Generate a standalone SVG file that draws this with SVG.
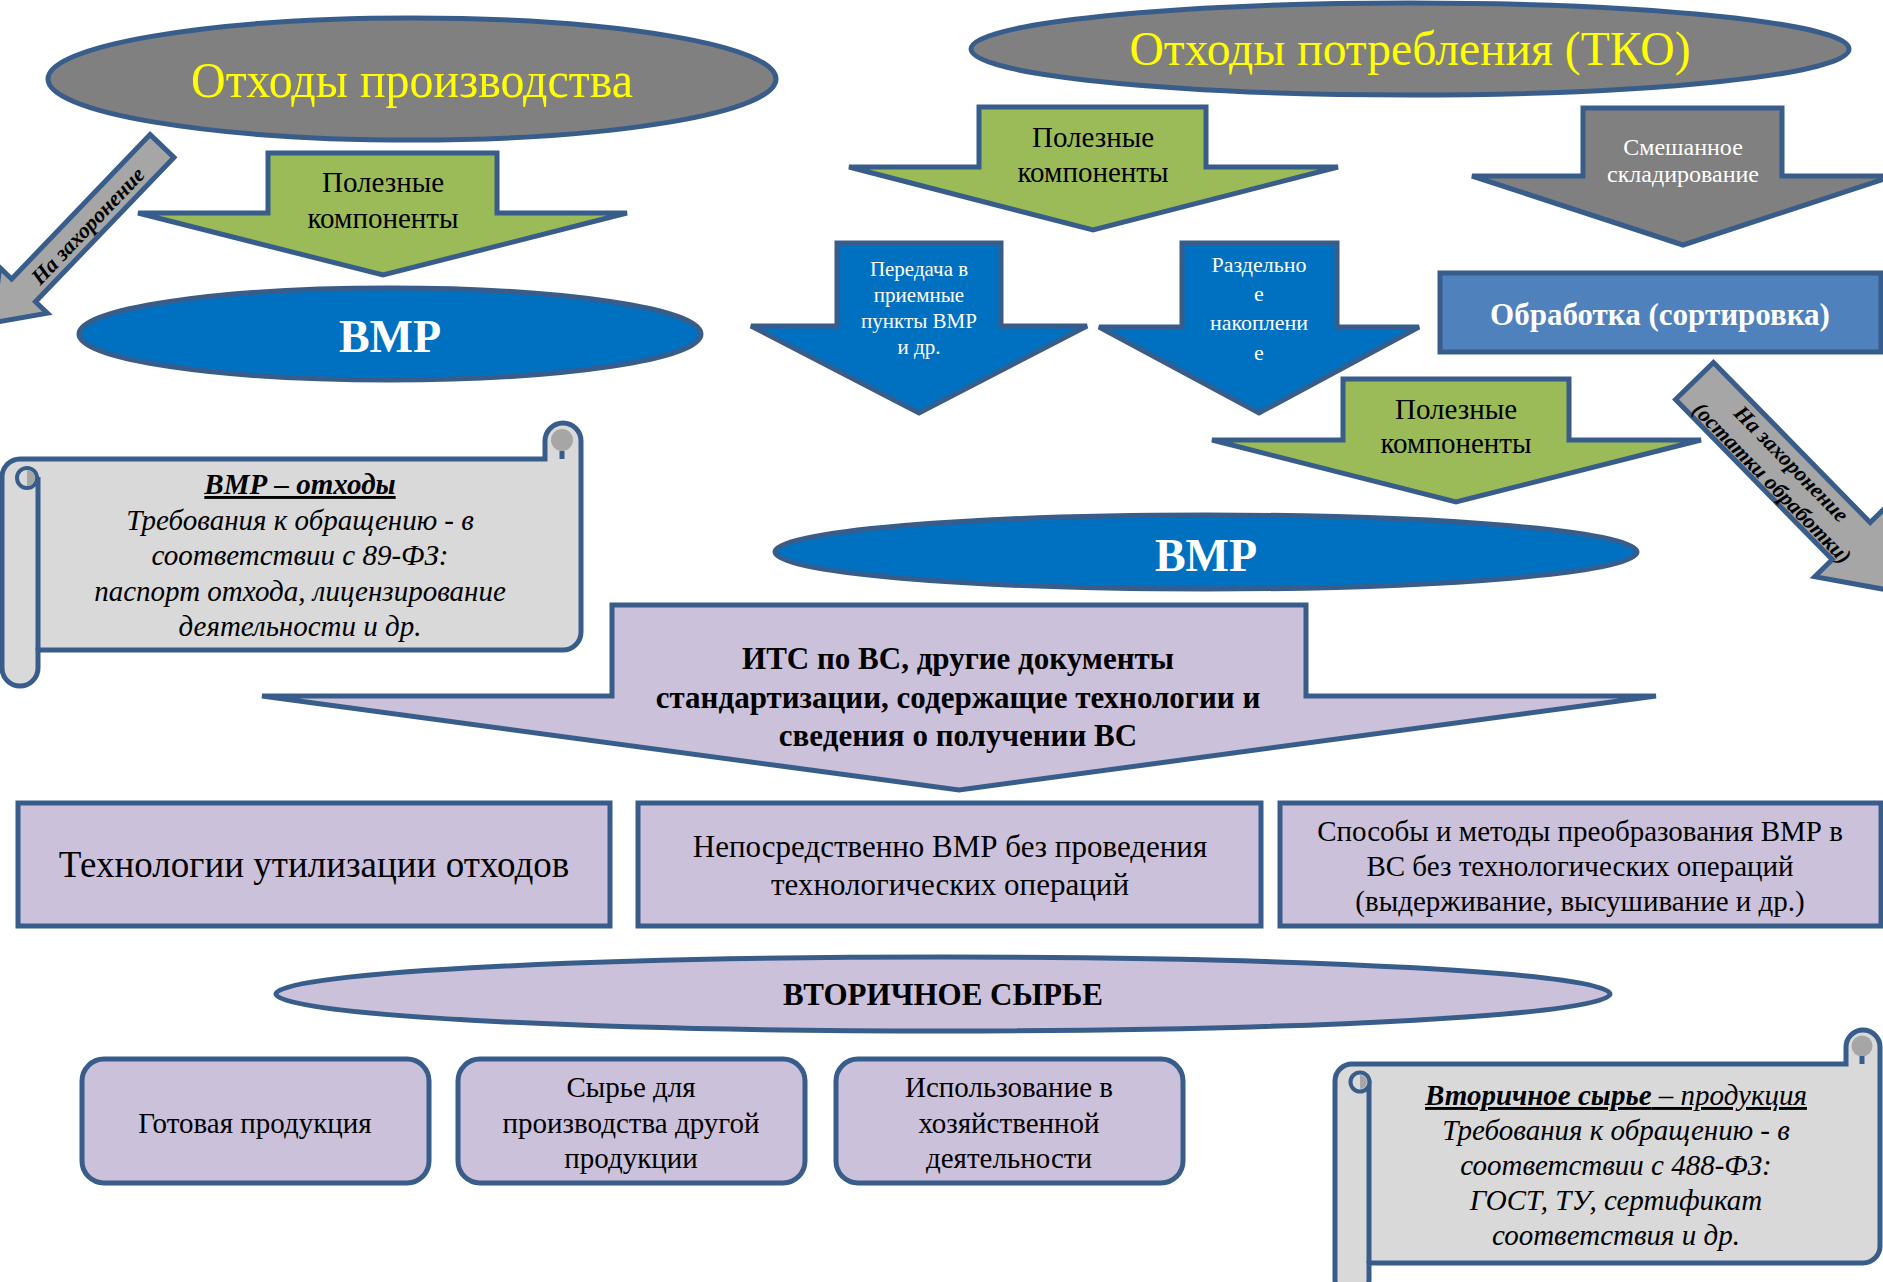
<svg xmlns="http://www.w3.org/2000/svg" width="1883" height="1282" viewBox="0 0 1883 1282">
<style>
.o{stroke:#385D8A;stroke-width:5;stroke-linejoin:miter}
.ol{fill:none;stroke:#385D8A;stroke-width:5}
.gr{fill:#808080}
.bl{fill:#0070C0}
.gn{fill:#9BBB59}
.lv{fill:#CCC1DA}
.sc{fill:#D9D9D9}
.dg{fill:#A6A6A6}
.ob{fill:#4F81BD}
.t{font-family:"Liberation Serif","Times New Roman",serif;text-anchor:middle;fill:#000}
.w{fill:#fff}
.y{fill:#FFFF00}
.b{font-weight:bold}
.i{font-style:italic}
.u{text-decoration:underline}
</style>
<rect width="1883" height="1282" fill="#fff"/>

<g id="src-production">
<ellipse class="o gr" cx="412" cy="79" rx="364" ry="61"/>
<text class="t y" x="412" y="97" font-size="50" textLength="442" lengthAdjust="spacingAndGlyphs">Отходы производства</text>
</g>

<g id="src-consumption">
<ellipse class="o gr" cx="1410" cy="49" rx="439" ry="46"/>
<text class="t y" x="1410" y="65" font-size="48" textLength="561" lengthAdjust="spacingAndGlyphs">Отходы потребления (ТКО)</text>
</g>

<g id="vmr-left">
<ellipse class="o bl" cx="390" cy="334" rx="311" ry="46"/>
<text class="t w b" x="390" y="352" font-size="46">ВМР</text>
</g>

<g id="vmr-right">
<ellipse class="o bl" cx="1206" cy="552" rx="431" ry="37"/>
<text class="t w b" x="1206" y="571" font-size="46">ВМР</text>
</g>

<g id="processing">
<rect class="o ob" x="1440" y="273" width="441" height="79"/>
<text class="t w b" x="1660" y="325" font-size="31">Обработка (сортировка)</text>
</g>

<g id="scroll-waste">
<path class="o sc" d="M20,459 L545,459 L545,441 A18,18 0 0 1 581,441 L581,632 A18,18 0 0 1 563,650 L38,650 L38,668 A18,18 0 0 1 2,668 L2,477 A18,18 0 0 1 20,459 Z"/>
<path class="ol" d="M38,477 L38,650"/>
<circle class="sc" cx="27" cy="478" r="10" stroke="#385D8A" stroke-width="4"/>
<path class="dg" d="M27,470 A8,8 0 0 1 27,486 Z"/>
<circle class="dg" cx="562" cy="440" r="11"/>
<path class="ol" d="M562,451 L562,459" stroke-width="4"/>
<text class="t b i u" x="300" y="494" font-size="29">ВМР – отходы</text>
<text class="t i" x="300" y="530" font-size="29">Требования к обращению - в</text>
<text class="t i" x="300" y="565" font-size="29">соответствии с 89-ФЗ:</text>
<text class="t i" x="300" y="601" font-size="29">паспорт отхода, лицензирование</text>
<text class="t i" x="300" y="636" font-size="29">деятельности и др.</text>
</g>

<g id="tech-1">
<rect class="o lv" x="18" y="803" width="592" height="123"/>
<text class="t" x="314" y="877" font-size="37">Технологии утилизации отходов</text>
</g>
<g id="tech-2">
<rect class="o lv" x="638" y="803" width="623" height="123"/>
<text class="t" x="950" y="857" font-size="31">Непосредственно ВМР без проведения</text>
<text class="t" x="950" y="895" font-size="31">технологических операций</text>
</g>
<g id="tech-3">
<rect class="o lv" x="1280" y="803" width="601" height="123"/>
<text class="t" x="1580" y="841" font-size="29">Способы и методы преобразования ВМР в</text>
<text class="t" x="1580" y="876" font-size="29">ВС без технологических операций</text>
<text class="t" x="1580" y="911" font-size="29">(выдерживание, высушивание и др.)</text>
</g>

<g id="secondary">
<ellipse class="o lv" cx="943" cy="994" rx="667" ry="37"/>
<text class="t b" x="943" y="1005" font-size="31">ВТОРИЧНОЕ СЫРЬЕ</text>
</g>

<g id="use-1">
<rect class="o lv" x="82" y="1059" width="347" height="124" rx="22"/>
<text class="t" x="255" y="1133" font-size="29">Готовая продукция</text>
</g>
<g id="use-2">
<rect class="o lv" x="458" y="1059" width="347" height="124" rx="22"/>
<text class="t" x="631" y="1097" font-size="29">Сырье для</text>
<text class="t" x="631" y="1133" font-size="29">производства другой</text>
<text class="t" x="631" y="1168" font-size="29">продукции</text>
</g>
<g id="use-3">
<rect class="o lv" x="836" y="1059" width="347" height="124" rx="22"/>
<text class="t" x="1009" y="1097" font-size="29">Использование в</text>
<text class="t" x="1009" y="1133" font-size="29">хозяйственной</text>
<text class="t" x="1009" y="1168" font-size="29">деятельности</text>
</g>

<g id="scroll-product">
<path class="o sc" d="M1352,1064 L1846,1064 L1846,1047 A17,17 0 0 1 1880,1047 L1880,1246 A17,17 0 0 1 1863,1263 L1369,1263 L1369,1280 A17,17 0 0 1 1335,1280 L1335,1081 A17,17 0 0 1 1352,1064 Z"/>
<path class="ol" d="M1369,1081 L1369,1263"/>
<circle class="sc" cx="1360" cy="1082" r="9.5" stroke="#385D8A" stroke-width="4"/>
<path class="dg" d="M1360,1075 A7,7 0 0 1 1360,1089 Z"/>
<circle class="dg" cx="1862" cy="1046" r="10.5"/>
<path class="ol" d="M1862,1056 L1862,1064" stroke-width="4"/>
<text class="t i u" x="1616" y="1105" font-size="29"><tspan class="b">Вторичное сырье</tspan> – продукция</text>
<text class="t i" x="1616" y="1140" font-size="29">Требования к обращению - в</text>
<text class="t i" x="1616" y="1175" font-size="29">соответствии с 488-ФЗ:</text>
<text class="t i" x="1616" y="1210" font-size="29">ГОСТ, ТУ, сертификат</text>
<text class="t i" x="1616" y="1245" font-size="29">соответствия и др.</text>
</g>

<g id="connectors">
<g id="arrow-useful-left">
<polygon class="o gn" points="268,153 497,153 497,213 627,213 383,275 138,213 268,213"/>
<text class="t" x="383" y="192" font-size="29">Полезные</text>
<text class="t" x="383" y="228" font-size="29">компоненты</text>
</g>
<g id="arrow-useful-top">
<polygon class="o gn" points="979,107 1206,107 1206,167 1338,167 1093,230 849,167 979,167"/>
<text class="t" x="1093" y="147" font-size="29">Полезные</text>
<text class="t" x="1093" y="182" font-size="29">компоненты</text>
</g>
<g id="arrow-mixed">
<polygon class="o gr" points="1583,108 1782,108 1782,176 1893,176 1683,245 1472,176 1583,176"/>
<text class="t w" x="1683" y="155" font-size="24">Смешанное</text>
<text class="t w" x="1683" y="182" font-size="24">складирование</text>
</g>
<g id="arrow-transfer">
<polygon class="o bl" points="837,243 1001,243 1001,326 1087,326 919,413 751,326 837,326"/>
<text class="t w" x="919" y="276" font-size="21">Передача в</text>
<text class="t w" x="919" y="302" font-size="21">приемные</text>
<text class="t w" x="919" y="328" font-size="21">пункты ВМР</text>
<text class="t w" x="919" y="354" font-size="21">и др.</text>
</g>
<g id="arrow-separate">
<polygon class="o bl" points="1182,243 1337,243 1337,327 1419,327 1259,413 1099,327 1182,327"/>
<text class="t w" x="1259" y="272" font-size="22">Раздельно</text>
<text class="t w" x="1259" y="301" font-size="22">е</text>
<text class="t w" x="1259" y="330" font-size="22">накоплени</text>
<text class="t w" x="1259" y="360" font-size="22">е</text>
</g>
<g id="arrow-useful-right">
<polygon class="o gn" points="1343,379 1569,379 1569,440 1701,440 1456,502 1212,440 1343,440"/>
<text class="t" x="1456" y="419" font-size="29">Полезные</text>
<text class="t" x="1456" y="453" font-size="29">компоненты</text>
</g>
<g id="arrow-landfill-left">
<polygon class="o dg" transform="translate(162,146) rotate(133.8)" points="0,-16.5 200,-16.5 200,-33 245,0 200,33 200,16.5 0,16.5"/>
<text class="t b i" transform="translate(88,226) rotate(-46.2)" y="7" font-size="22">На захоронение</text>
</g>
<g id="arrow-landfill-right" transform="translate(1694.5,381) rotate(45.6)">
<polygon class="o dg" points="0,-26.5 224,-26.5 224,-51 296,0 224,51 224,26.5 0,26.5"/>
<text class="t b i" x="127" y="-4" font-size="22">На захоронение</text>
<text class="t b i" x="127" y="23" font-size="22">(остатки обработки)</text>
</g>
<g id="arrow-its">
<polygon class="o lv" points="612,605 1306,605 1306,696 1656,696 959,790 262,696 612,696"/>
<text class="t b" x="958" y="669" font-size="31">ИТС по ВС, другие документы</text>
<text class="t b" x="958" y="708" font-size="31">стандартизации, содержащие технологии и</text>
<text class="t b" x="958" y="746" font-size="31">сведения о получении ВС</text>
</g>
</g>
</svg>
